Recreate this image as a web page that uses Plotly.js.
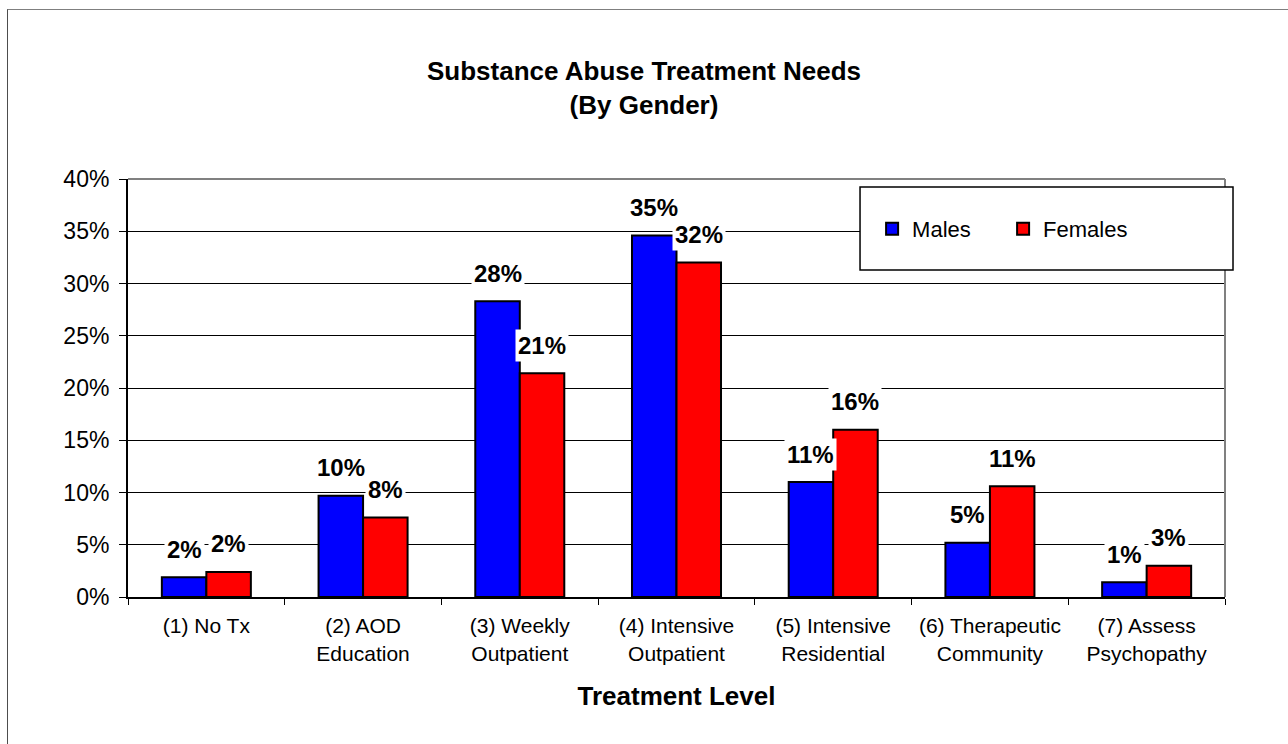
<!DOCTYPE html>
<html>
<head>
<meta charset="utf-8">
<script src="https://cdn.plot.ly/plotly-3.0.1.min.js"></script>
<style>
  html, body { margin: 0; padding: 0; background: #ffffff; }
  #chart { width: 1288px; height: 744px; }
  #frame {
    position: absolute; left: 7px; top: 9px; width: 1400px; height: 900px;
    border-top: 1px solid #7f7f7f; border-left: 1px solid #4d4d4d;
    pointer-events: none;
  }
</style>
</head>
<body>
<div id="chart"></div>
<div id="frame"></div>
<script>
// Treatment levels (two-line tick labels)
const categories = [
  '(1) No Tx',
  '(2) AOD<br>Education',
  '(3) Weekly<br>Outpatient',
  '(4) Intensive<br>Outpatient',
  '(5) Intensive<br>Residential',
  '(6) Therapeutic<br>Community',
  '(7) Assess<br>Psychopathy'
];

// Share of each gender needing each treatment level
const males   = [0.019, 0.097, 0.283, 0.346, 0.110, 0.052, 0.014];
const females = [0.024, 0.076, 0.214, 0.320, 0.160, 0.106, 0.030];

const seriesNames = ['Males', 'Females'];
const yTicks = [0, 0.05, 0.10, 0.15, 0.20, 0.25, 0.30, 0.35, 0.40];

const FONT = 'Arial, "Liberation Sans", sans-serif';
const BARGAP = 0.432;
const half = (1 - BARGAP) / 4;   // offset of each bar centre from the category centre

function bar(name, values, color) {
  return {
    type: 'bar',
    name: name,
    x: categories,
    y: values,
    marker: { color: color, line: { color: '#000000', width: 2 } },
    hoverinfo: 'x+y'
  };
}

const traces = [
  bar(seriesNames[0], males, '#0000ff'),
  bar(seriesNames[1], females, '#ff0000')
];

// Value labels sit above each bar on a white box that interrupts the gridlines
function valueLabels(values, shift) {
  return values.map((v, i) => ({
    x: i + shift,
    y: v,
    xref: 'x', yref: 'y',
    text: Math.round(v * 100) + '%',
    showarrow: false,
    yshift: 28,
    bgcolor: '#ffffff',
    borderpad: 2,
    font: { family: FONT, size: 24, color: '#000000', weight: 'bold' }
  }));
}

const annotations = [
  ...valueLabels(males, -half),
  ...valueLabels(females, half)
];

const shapes = [
  // grey frame on the top and right of the plot area
  { type: 'line', xref: 'paper', yref: 'paper', x0: 0, x1: 1, y0: 1, y1: 1,
    line: { color: '#808080', width: 2 }, layer: 'above' },
  { type: 'line', xref: 'paper', yref: 'paper', x0: 1, x1: 1, y0: 0, y1: 1,
    line: { color: '#808080', width: 2 }, layer: 'above' },
  // legend box
  { type: 'rect', xref: 'paper', yref: 'paper',
    x0: 0.6673, x1: 1.0073, y0: 0.7823, y1: 0.9809,
    fillcolor: '#ffffff', line: { color: '#000000', width: 1.5 }, layer: 'above' }
];

const layout = {
  width: 1288,
  height: 744,
  margin: { l: 128, r: 63, t: 179, b: 147, pad: 0 },
  paper_bgcolor: '#ffffff',
  plot_bgcolor: '#ffffff',
  font: { family: FONT, color: '#000000' },
  barmode: 'group',
  bargap: BARGAP,
  bargroupgap: 0,
  title: {
    text: 'Substance Abuse Treatment Needs<br>(By Gender)',
    font: { family: FONT, size: 26, color: '#000000', weight: 'bold' },
    xref: 'container', x: 0.5, xanchor: 'center',
    yref: 'container', y: 1 - 80 / 744, yanchor: 'top'
  },
  xaxis: {
    type: 'category',
    showline: true, linecolor: '#000000', linewidth: 2,
    ticks: 'outside', tickson: 'boundaries', ticklen: 6, tickcolor: '#000000', tickwidth: 1,
    tickfont: { family: FONT, size: 21, color: '#000000' },
    ticklabelstandoff: 9,
    showgrid: false, zeroline: false,
    title: {
      text: 'Treatment Level',
      font: { family: FONT, size: 26, color: '#000000', weight: 'bold' },
      standoff: 23
    },
    automargin: false
  },
  yaxis: {
    range: [0, 0.4],
    tickvals: yTicks,
    tickformat: '.0%',
    showline: true, linecolor: '#000000', linewidth: 2,
    ticks: 'outside', ticklen: 7, tickcolor: '#000000', tickwidth: 1,
    tickfont: { family: FONT, size: 23, color: '#000000' },
    ticklabelstandoff: 5,
    showgrid: true, gridcolor: '#000000', gridwidth: 1,
    zeroline: false,
    automargin: false
  },
  showlegend: true,
  legend: {
    orientation: 'h',
    x: 0.6783, xanchor: 'left',
    y: 0.8804, yanchor: 'middle',
    bgcolor: 'rgba(0,0,0,0)',
    borderwidth: 0,
    entrywidth: 86,
    font: { family: FONT, size: 22, color: '#000000' },
    traceorder: 'normal'
  },
  annotations: annotations,
  shapes: shapes
};

Plotly.newPlot('chart', traces, layout, { displayModeBar: false, staticPlot: true });
</script>
</body>
</html>
